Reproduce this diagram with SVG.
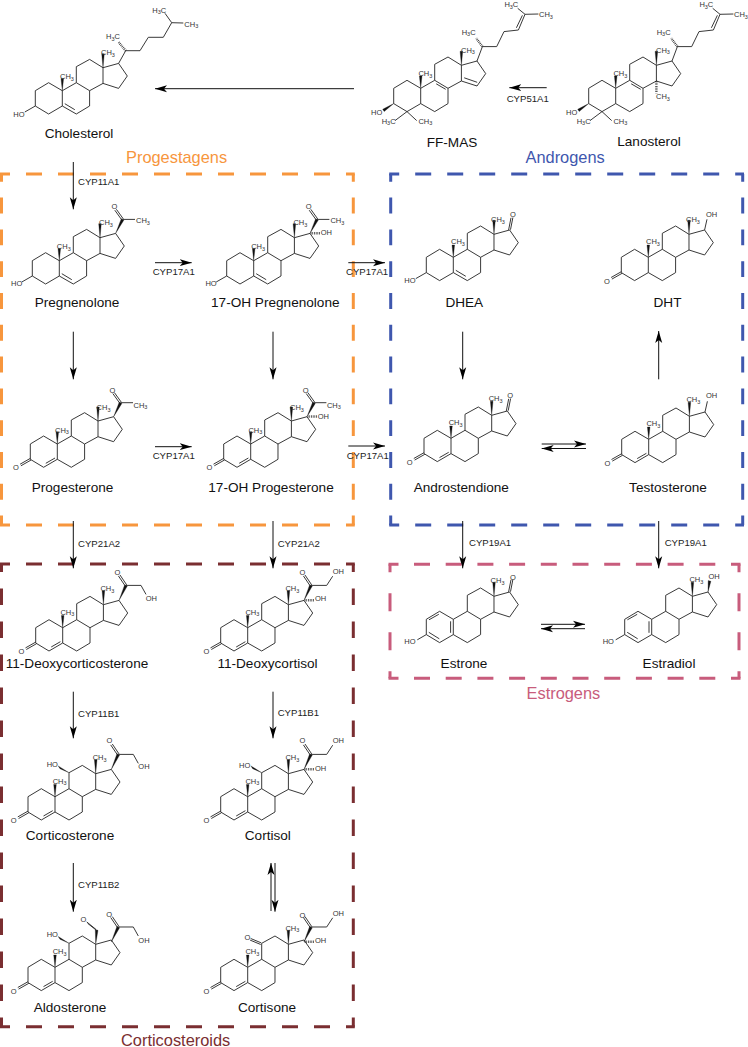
<svg xmlns="http://www.w3.org/2000/svg" width="748" height="1047" viewBox="0 0 748 1047">
<style>
text{font-family:"Liberation Sans",Arial,sans-serif}
.s{font-size:7.5px;fill:#333}
.u{font-size:5.5px}
.n{font-size:13.6px;fill:#111;text-anchor:middle}
.e{font-size:9.6px;fill:#222}
.g{font-size:16.4px}
.b{fill:none;stroke:#222;stroke-width:.9;stroke-linejoin:round}
.w{fill:#111;stroke:#111;stroke-width:.3}
.h{fill:none;stroke:#222;stroke-width:2.4;stroke-dasharray:.7 1}
.a{fill:none;stroke:#111;stroke-width:1}
.box{fill:none;stroke-width:3}
</style>
<defs>
<marker id="ah" markerUnits="userSpaceOnUse" markerWidth="14" markerHeight="10" refX="12" refY="4" orient="auto"><path d="M0,0.5 L12,4 L0,7.5 L3,4 Z" fill="#000"/></marker>
<path id="hd" class="box" d="M-1.5,0 H8.5 M24.5,0 H40.5 M56.5,0 H72.5 M88.5,0 H104.5 M120.5,0 H136.5 M152.5,0 H168.5 M184.5,0 H200.5 M216.5,0 H232.5 M248.5,0 H264.5 M280.5,0 H296.5 M312.5,0 H328.5 M344.5,0 H353.3"/>
<path id="hdp" class="box" d="M-1.5,0 H8.5 M24,0 H40 M55.7,0 H71.7 M87.4,0 H103.4 M119.1,0 H135.1 M150.8,0 H166.8 M182.5,0 H198.5 M214.2,0 H230.2 M245.9,0 H261.9 M277.6,0 H293.6 M309.3,0 H325.3 M341,0 H350.5"/>
<g id="skel"><path class="b" d="M0,0 L-13.7,-8 -27,0 -27,15.3 -13.7,23.3 0,15.3 Z M0,15.3 L14,23.3 27.3,15.3 27.3,0 14,-8 0,0 M14,-8 L14,-24 27.3,-31.3 40.7,-23 40.7,-7.3 27.3,0 M40.7,-23 L56.3,-27.3 65,-14.7 56.3,-2.3 40.7,-7.3"/></g>
<path id="m19" class="w" d="M0,0 L-1.3,-12.3 1.3,-12.3 Z"/>
<path id="m18" class="w" d="M40.7,-23 L39.4,-37 42,-37 Z"/>
<path id="d56" class="b" d="M2.5,13 L12.5,19"/>
<path id="d45" class="b" d="M-11.5,19.3 L-2.3,14"/>
<path id="ho3" class="b" d="M-27,15.3 L-37.5,21.3"/>
<path id="ox3" class="b" d="M-27,14.4 L-37.2,20.2 M-26.2,16 L-36.4,21.8"/>
<path id="ox17" class="b" d="M55.3,-27.3 L57.7,-39.5 M57.2,-27.6 L59.6,-39.8"/>
<g id="acetyl"><path class="w" d="M56.3,-27.3 L62,-42 64.6,-40.6 Z"/><path class="b" d="M62.4,-40.9 L55.5,-50.5 M64,-41.8 L57.1,-51.4 M63.3,-41.3 L75.7,-41.3"/></g>
<g id="ketol"><path class="w" d="M56.3,-27.3 L62,-43 64.6,-41.6 Z"/><path class="b" d="M62.4,-41.9 L55.7,-51.8 M64,-42.8 L57.3,-52.7 M63.3,-42.3 L78.3,-42.3 L83.3,-33.3"/></g>
<g id="ketol2"><path class="w" d="M56.3,-27.3 L62,-43 64.6,-41.6 Z"/><path class="b" d="M62.4,-41.9 L55.7,-51.8 M64,-42.8 L57.3,-52.7 M63.3,-42.3 L79,-42.3 L85,-51.5"/><path class="h" d="M57,-27.5 L67,-27.5"/></g>
<g id="sideL"><path class="b" d="M56.3,-27.3 L61.7,-41.7 76,-41.7 83.3,-56.7 97.7,-58.3 104.3,-74 97,-80 M104.3,-74 L117.7,-74.3 M95.7,-60.5 L101.7,-73"/><path class="h" d="M61.7,-41.7 L55.5,-50"/></g>
<path id="ho11" class="w" d="M14,-24 L3.2,-30.8 5,-28 Z"/>
<g id="arom"><path class="b" d="M-14.5,-5 L-24.3,0.5 M-24.5,13 L-14,19.5 M-2.7,2 L-2.7,13.5"/></g>
</defs>

<g id="boxes">
<g id="box-progestagens" stroke="#F7963D"><use href="#hd" x="1.5" y="174"/><use href="#hd" x="1.5" y="525"/><path class="box" style="stroke-dasharray:15.9 15.9;stroke-dashoffset:8.2" d="M1.5,174 V525 M353.3,174 V525"/><text class="g" x="126" y="163" fill="#F7963D" stroke="none">Progestagens</text></g>
<g id="box-androgens" stroke="#3F57AE"><use href="#hd" x="390.7" y="174"/><use href="#hd" x="390.7" y="525"/><path class="box" style="stroke-dasharray:15.9 15.9;stroke-dashoffset:8.2" d="M390.7,174 V525 M742.7,174 V525"/><text class="g" x="525.5" y="162.7" fill="#3F57AE" stroke="none">Androgens</text></g>
<g id="box-estrogens" stroke="#C85C7C"><use href="#hdp" x="390" y="564.3"/><use href="#hdp" x="390" y="678.3"/><path class="box" style="stroke-dasharray:18 21;stroke-dashoffset:10" d="M390,564.3 V678.3 M739,564.3 V678.3"/><text class="g" x="526.5" y="699" fill="#C85C7C" stroke="none">Estrogens</text></g>
<g id="box-corticosteroids" stroke="#7A2E31"><use href="#hd" x="1.5" y="564"/><use href="#hd" x="1.5" y="1026.7"/><path class="box" style="stroke-dasharray:16.5 16.5;stroke-dashoffset:8.5" d="M1.5,564 V1026.7 M353.3,564 V1026.7"/><text class="g" x="121" y="1045.5" fill="#7A2E31" stroke="none">Corticosteroids</text></g>
</g>

<g id="connectors">
<path class="a" marker-end="url(#ah)" d="M354,88.7 H155"/>
<path class="a" marker-end="url(#ah)" d="M546.7,87.7 H509.3"/>
<path class="a" marker-end="url(#ah)" d="M73.3,162 V209.3"/>
<path class="a" marker-end="url(#ah)" d="M155,262.7 H191.7"/>
<path class="a" marker-end="url(#ah)" d="M348.3,262.7 H385"/>
<path class="a" marker-end="url(#ah)" d="M73.3,331.7 V379.3"/>
<path class="a" marker-end="url(#ah)" d="M273,331.7 V379.3"/>
<path class="a" marker-end="url(#ah)" d="M155,446.7 H191.7"/>
<path class="a" marker-end="url(#ah)" d="M348.3,446 H385"/>
<path class="a" marker-end="url(#ah)" d="M73.3,521 V568.3"/>
<path class="a" marker-end="url(#ah)" d="M273,521 V568.3"/>
<path class="a" marker-end="url(#ah)" d="M73.3,691.7 V738.3"/>
<path class="a" marker-end="url(#ah)" d="M273,691.7 V738.3"/>
<path class="a" marker-end="url(#ah)" d="M73.3,863 V911.7"/>
<path class="a" marker-end="url(#ah)" d="M271,911 V863"/>
<path class="a" marker-end="url(#ah)" d="M275,863 V911.7"/>
<path class="a" marker-end="url(#ah)" d="M462.7,331.7 V379.3"/>
<path class="a" marker-end="url(#ah)" d="M658.7,379.3 V331"/>
<path class="a" marker-end="url(#ah)" d="M541.7,444 H586"/>
<path class="a" marker-end="url(#ah)" d="M586,448.5 H541.7"/>
<path class="a" marker-end="url(#ah)" d="M541,624.3 H585"/>
<path class="a" marker-end="url(#ah)" d="M585,628.7 H541"/>
<path class="a" marker-end="url(#ah)" d="M462.7,521 V568.3"/>
<path class="a" marker-end="url(#ah)" d="M658.7,521 V568.3"/>
<text class="e" x="506.7" y="102">CYP51A1</text>
<text class="e" x="78" y="185">CYP11A1</text>
<text class="e" x="152.7" y="275.3">CYP17A1</text>
<text class="e" x="346" y="275.3">CYP17A1</text>
<text class="e" x="152.7" y="459">CYP17A1</text>
<text class="e" x="346.7" y="459">CYP17A1</text>
<text class="e" x="78" y="546.7">CYP21A2</text>
<text class="e" x="277.7" y="546.7">CYP21A2</text>
<text class="e" x="78" y="716.7">CYP11B1</text>
<text class="e" x="277.7" y="716">CYP11B1</text>
<text class="e" x="78" y="888.3">CYP11B2</text>
<text class="e" x="469" y="545.7">CYP19A1</text>
<text class="e" x="664.7" y="545.7">CYP19A1</text>
</g>

<g id="cholesterol" transform="translate(62.3,90.7)">
<use href="#skel"/><use href="#m19"/><use href="#m18"/><use href="#d56"/><use href="#ho3"/>
<path class="b" d="M56.3,-27.3 L63.4,-40 77.7,-40 86,-53.4 101,-53.4 109.4,-68 102.7,-77.4 M109.4,-68 L121,-67.7"/><path class="h" d="M63.4,-40 L56,-49"/>
<text class="s" x="-49" y="26">HO</text>
<text class="s" x="-2.3" y="-11.7">CH<tspan class="u" dy="1.5">3</tspan></text>
<text class="s" x="38.7" y="-35.7">CH<tspan class="u" dy="1.5">3</tspan></text>
<text class="s" x="43.7" y="-51.3">H<tspan class="u" dy="1.5">3</tspan><tspan dy="-1.5">C</tspan></text>
<text class="s" x="90" y="-78">H<tspan class="u" dy="1.5">3</tspan><tspan dy="-1.5">C</tspan></text>
<text class="s" x="122" y="-64">CH<tspan class="u" dy="1.5">3</tspan></text>
<text class="n" x="16.7" y="47.3">Cholesterol</text>
</g>

<g id="ff-mas" transform="translate(420.7,88.3)">
<use href="#skel"/><use href="#m19"/><use href="#m18"/><use href="#sideL"/>
<path class="b" d="M15.5,-4.5 L25,1 M43.5,-10.5 L56.5,-6 M-13.7,23.3 L-25.7,32.3 M-13.7,23.3 L-4,32.3"/>
<path class="w" d="M-27,15.3 L-38,21 -36.5,23.2 Z"/>
<text class="s" x="-49.7" y="26.7">HO</text>
<text class="s" x="-39" y="35.7">H<tspan class="u" dy="1.5">3</tspan><tspan dy="-1.5">C</tspan></text>
<text class="s" x="-2.3" y="35.7">CH<tspan class="u" dy="1.5">3</tspan></text>
<text class="s" x="-2.3" y="-12.3">CH<tspan class="u" dy="1.5">3</tspan></text>
<text class="s" x="40.3" y="-35.7">CH<tspan class="u" dy="1.5">3</tspan></text>
<text class="s" x="41" y="-53.7">H<tspan class="u" dy="1.5">3</tspan><tspan dy="-1.5">C</tspan></text>
<text class="s" x="83.7" y="-81.3">H<tspan class="u" dy="1.5">3</tspan><tspan dy="-1.5">C</tspan></text>
<text class="s" x="118.3" y="-71">CH<tspan class="u" dy="1.5">3</tspan></text>
<text class="n" x="31.3" y="59">FF-MAS</text>
</g>

<g id="lanosterol" transform="translate(615.7,88.3)">
<use href="#skel"/><use href="#m19"/><use href="#m18"/><use href="#sideL"/>
<path class="b" d="M15.5,-4.5 L25,1 M-13.7,23.3 L-25.7,32.3 M-13.7,23.3 L-4,32.3"/>
<path class="h" d="M40.7,-7.3 L40.7,5"/>
<path class="w" d="M-27,15.3 L-38,21 -36.5,23.2 Z"/>
<text class="s" x="-49.7" y="26.7">HO</text>
<text class="s" x="-39" y="35.7">H<tspan class="u" dy="1.5">3</tspan><tspan dy="-1.5">C</tspan></text>
<text class="s" x="-2.3" y="35.7">CH<tspan class="u" dy="1.5">3</tspan></text>
<text class="s" x="-2.3" y="-12.3">CH<tspan class="u" dy="1.5">3</tspan></text>
<text class="s" x="40.3" y="-35.7">CH<tspan class="u" dy="1.5">3</tspan></text>
<text class="s" x="40.3" y="11">CH<tspan class="u" dy="1.5">3</tspan></text>
<text class="s" x="41" y="-53.7">H<tspan class="u" dy="1.5">3</tspan><tspan dy="-1.5">C</tspan></text>
<text class="s" x="83.7" y="-81.3">H<tspan class="u" dy="1.5">3</tspan><tspan dy="-1.5">C</tspan></text>
<text class="s" x="118.3" y="-71">CH<tspan class="u" dy="1.5">3</tspan></text>
<text class="n" x="33.3" y="57.7">Lanosterol</text>
</g>

<g id="pregnenolone" transform="translate(59.3,260.7)">
<use href="#skel"/><use href="#m19"/><use href="#m18"/><use href="#d56"/><use href="#ho3"/><use href="#acetyl"/>
<text class="s" x="-48.3" y="25">HO</text>
<text class="s" x="-2.5" y="-11.7">CH<tspan class="u" dy="1.5">3</tspan></text>
<text class="s" x="39.7" y="-35.7">CH<tspan class="u" dy="1.5">3</tspan></text>
<text class="s" x="52.1" y="-51.3">O</text>
<text class="s" x="76.7" y="-37.3">CH<tspan class="u" dy="1.5">3</tspan></text>
<text class="n" x="17.7" y="46">Pregnenolone</text>
</g>

<g id="oh-pregnenolone" transform="translate(253.7,260.7)">
<use href="#skel"/><use href="#m19"/><use href="#m18"/><use href="#d56"/><use href="#ho3"/><use href="#acetyl"/>
<path class="h" d="M57,-27.5 L67,-27.5"/>
<text class="s" x="-48.3" y="25">HO</text>
<text class="s" x="-2.5" y="-11.7">CH<tspan class="u" dy="1.5">3</tspan></text>
<text class="s" x="39.7" y="-35.7">CH<tspan class="u" dy="1.5">3</tspan></text>
<text class="s" x="52.1" y="-51.3">O</text>
<text class="s" x="76.7" y="-37.3">CH<tspan class="u" dy="1.5">3</tspan></text>
<text class="s" x="67" y="-25.7">OH</text>
<text class="n" x="21.6" y="46">17-OH Pregnenolone</text>
</g>

<g id="progesterone" transform="translate(57.3,444)">
<use href="#skel"/><use href="#m19"/><use href="#m18"/><use href="#d45"/><use href="#ox3"/><use href="#acetyl"/>
<text class="s" x="-44.2" y="26.4">O</text>
<text class="s" x="-2.3" y="-11.3">CH<tspan class="u" dy="1.5">3</tspan></text>
<text class="s" x="39.3" y="-34">CH<tspan class="u" dy="1.5">3</tspan></text>
<text class="s" x="52.1" y="-51.3">O</text>
<text class="s" x="76.2" y="-36.5">CH<tspan class="u" dy="1.5">3</tspan></text>
<text class="n" x="15.2" y="48.3">Progesterone</text>
</g>

<g id="oh-progesterone" transform="translate(250.7,444)">
<use href="#skel"/><use href="#m19"/><use href="#m18"/><use href="#d45"/><use href="#ox3"/><use href="#acetyl"/>
<path class="h" d="M57,-27.5 L67,-27.5"/>
<text class="s" x="-44.2" y="26.4">O</text>
<text class="s" x="-2.3" y="-11.3">CH<tspan class="u" dy="1.5">3</tspan></text>
<text class="s" x="39.3" y="-34">CH<tspan class="u" dy="1.5">3</tspan></text>
<text class="s" x="52.1" y="-51.3">O</text>
<text class="s" x="76.2" y="-36.5">CH<tspan class="u" dy="1.5">3</tspan></text>
<text class="s" x="67" y="-25">OH</text>
<text class="n" x="20.3" y="48.3">17-OH Progesterone</text>
</g>

<g id="dhea" transform="translate(453.3,257.3)">
<use href="#skel"/><use href="#m19"/><use href="#m18"/><use href="#d56"/><use href="#ho3"/><use href="#ox17"/>
<text class="s" x="-49" y="26">HO</text>
<text class="s" x="-2.3" y="-13.3">CH<tspan class="u" dy="1.5">3</tspan></text>
<text class="s" x="37.7" y="-35">CH<tspan class="u" dy="1.5">3</tspan></text>
<text class="s" x="56.6" y="-40.7">O</text>
<text class="n" x="11" y="49.4">DHEA</text>
</g>

<g id="dht" transform="translate(648.3,257.3)">
<use href="#skel"/><use href="#m19"/><use href="#m18"/><use href="#ox3"/>
<path class="b" d="M56.3,-27.3 L58.7,-38"/>
<text class="s" x="-44.2" y="26.4">O</text>
<text class="s" x="-2.3" y="-13.3">CH<tspan class="u" dy="1.5">3</tspan></text>
<text class="s" x="37.7" y="-35">CH<tspan class="u" dy="1.5">3</tspan></text>
<text class="s" x="57.7" y="-40.7">OH</text>
<text class="n" x="19.2" y="49.4">DHT</text>
</g>

<g id="androstendione" transform="translate(451,438.3)">
<use href="#skel"/><use href="#m19"/><use href="#m18"/><use href="#d45"/><use href="#ox3"/><use href="#ox17"/>
<text class="s" x="-44.2" y="26.4">O</text>
<text class="s" x="-2.3" y="-13.3">CH<tspan class="u" dy="1.5">3</tspan></text>
<text class="s" x="37.7" y="-37">CH<tspan class="u" dy="1.5">3</tspan></text>
<text class="s" x="56.2" y="-40.7">O</text>
<text class="n" x="10.3" y="54">Androstendione</text>
</g>

<g id="testosterone" transform="translate(648.7,439.3)">
<use href="#skel"/><use href="#m19"/><use href="#m18"/><use href="#d45"/><use href="#ox3"/>
<path class="b" d="M56.3,-27.3 L58.7,-38"/>
<text class="s" x="-44.2" y="26.4">O</text>
<text class="s" x="-2.3" y="-13.3">CH<tspan class="u" dy="1.5">3</tspan></text>
<text class="s" x="37.7" y="-37">CH<tspan class="u" dy="1.5">3</tspan></text>
<text class="s" x="57.3" y="-41.7">OH</text>
<text class="n" x="19.3" y="53">Testosterone</text>
</g>

<g id="estrone" transform="translate(453.3,619.3)">
<use href="#skel"/><use href="#m18"/><use href="#arom"/><use href="#ox17"/>
<path class="b" d="M-27,15.3 L-36,20.5"/>
<text class="s" x="-49" y="25">HO</text>
<text class="s" x="37.3" y="-36">CH<tspan class="u" dy="1.5">3</tspan></text>
<text class="s" x="56.6" y="-39.5">O</text>
<text class="n" x="10.7" y="49">Estrone</text>
</g>

<g id="estradiol" transform="translate(651.7,619.3)">
<use href="#skel"/><use href="#m18"/><use href="#arom"/>
<path class="b" d="M-27,15.3 L-36,20.5"/>
<path class="w" d="M56.3,-27.3 L56.5,-38.7 59.2,-38 Z"/>
<text class="s" x="-49" y="25">HO</text>
<text class="s" x="37.7" y="-37">CH<tspan class="u" dy="1.5">3</tspan></text>
<text class="s" x="56.7" y="-40">OH</text>
<text class="n" x="17.3" y="49">Estradiol</text>
</g>

<g id="deoxycorticosterone" transform="translate(62.7,627.7)">
<use href="#skel"/><use href="#m19"/><use href="#m18"/><use href="#d45"/><use href="#ox3"/><use href="#ketol"/>
<text class="s" x="-44.2" y="26.4">O</text>
<text class="s" x="-2.3" y="-13">CH<tspan class="u" dy="1.5">3</tspan></text>
<text class="s" x="37.7" y="-36.5">CH<tspan class="u" dy="1.5">3</tspan></text>
<text class="s" x="51.8" y="-52.6">O</text>
<text class="s" x="83" y="-26.3">OH</text>
<text class="n" x="14.3" y="40.6">11-Deoxycorticosterone</text>
</g>

<g id="deoxycortisol" transform="translate(247.7,627.7)">
<use href="#skel"/><use href="#m19"/><use href="#m18"/><use href="#d45"/><use href="#ox3"/><use href="#ketol2"/>
<text class="s" x="-44.2" y="26.4">O</text>
<text class="s" x="-2.3" y="-13">CH<tspan class="u" dy="1.5">3</tspan></text>
<text class="s" x="37.7" y="-36.5">CH<tspan class="u" dy="1.5">3</tspan></text>
<text class="s" x="51.8" y="-52.6">O</text>
<text class="s" x="85" y="-53.7">OH</text>
<text class="s" x="67.3" y="-26.3">OH</text>
<text class="n" x="19.8" y="40.6">11-Deoxycortisol</text>
</g>

<g id="corticosterone" transform="translate(55,796.7)">
<use href="#skel"/><use href="#m19"/><use href="#m18"/><use href="#d45"/><use href="#ox3"/><use href="#ketol"/><use href="#ho11"/>
<text class="s" x="-44.2" y="26.4">O</text>
<text class="s" x="-2.3" y="-13">CH<tspan class="u" dy="1.5">3</tspan></text>
<text class="s" x="37.7" y="-36.5">CH<tspan class="u" dy="1.5">3</tspan></text>
<text class="s" x="51.5" y="-53.3">O</text>
<text class="s" x="83.3" y="-27.3">OH</text>
<text class="s" x="-8.3" y="-30">HO</text>
<text class="n" x="15" y="43.3">Corticosterone</text>
</g>

<g id="cortisol" transform="translate(247.7,796.7)">
<use href="#skel"/><use href="#m19"/><use href="#m18"/><use href="#d45"/><use href="#ox3"/><use href="#ketol2"/><use href="#ho11"/>
<text class="s" x="-44.2" y="26.4">O</text>
<text class="s" x="-2.3" y="-13">CH<tspan class="u" dy="1.5">3</tspan></text>
<text class="s" x="37.7" y="-36.5">CH<tspan class="u" dy="1.5">3</tspan></text>
<text class="s" x="51.8" y="-53.3">O</text>
<text class="s" x="85" y="-53.3">OH</text>
<text class="s" x="67.3" y="-26">OH</text>
<text class="s" x="-8.7" y="-29">HO</text>
<text class="n" x="20.1" y="43.3">Cortisol</text>
</g>

<g id="aldosterone" transform="translate(55,967.3)">
<use href="#skel"/><use href="#m19"/><use href="#d45"/><use href="#ox3"/><use href="#ketol" y="2"/><use href="#ho11"/>
<path class="w" d="M40.7,-23 L40.3,-37.5 43,-37 Z"/>
<path class="b" d="M41.2,-37.7 L31.7,-45.4 M42,-36.5 L32.6,-44"/>
<text class="s" x="-44.2" y="26.4">O</text>
<text class="s" x="-2.3" y="-13">CH<tspan class="u" dy="1.5">3</tspan></text>
<text class="s" x="25.4" y="-45.3">O</text>
<text class="s" x="51.2" y="-50.6">O</text>
<text class="s" x="83.3" y="-24.7">OH</text>
<text class="s" x="-8.3" y="-30">HO</text>
<text class="n" x="15" y="45">Aldosterone</text>
</g>

<g id="cortisone" transform="translate(247.7,967.3)">
<use href="#skel"/><use href="#m19"/><use href="#m18"/><use href="#d45"/><use href="#ox3"/><use href="#ketol2" y="2"/>
<path class="b" d="M13.6,-24.4 L3,-28.8 M13,-22.8 L2.4,-27.2"/>
<text class="s" x="-44.2" y="26.4">O</text>
<text class="s" x="-2.3" y="-13">CH<tspan class="u" dy="1.5">3</tspan></text>
<text class="s" x="37.7" y="-36.5">CH<tspan class="u" dy="1.5">3</tspan></text>
<text class="s" x="-3.2" y="-27">O</text>
<text class="s" x="51.8" y="-49.6">O</text>
<text class="s" x="85" y="-51.3">OH</text>
<text class="s" x="67.3" y="-24">OH</text>
<text class="n" x="19.3" y="45">Cortisone</text>
</g>
</svg>
